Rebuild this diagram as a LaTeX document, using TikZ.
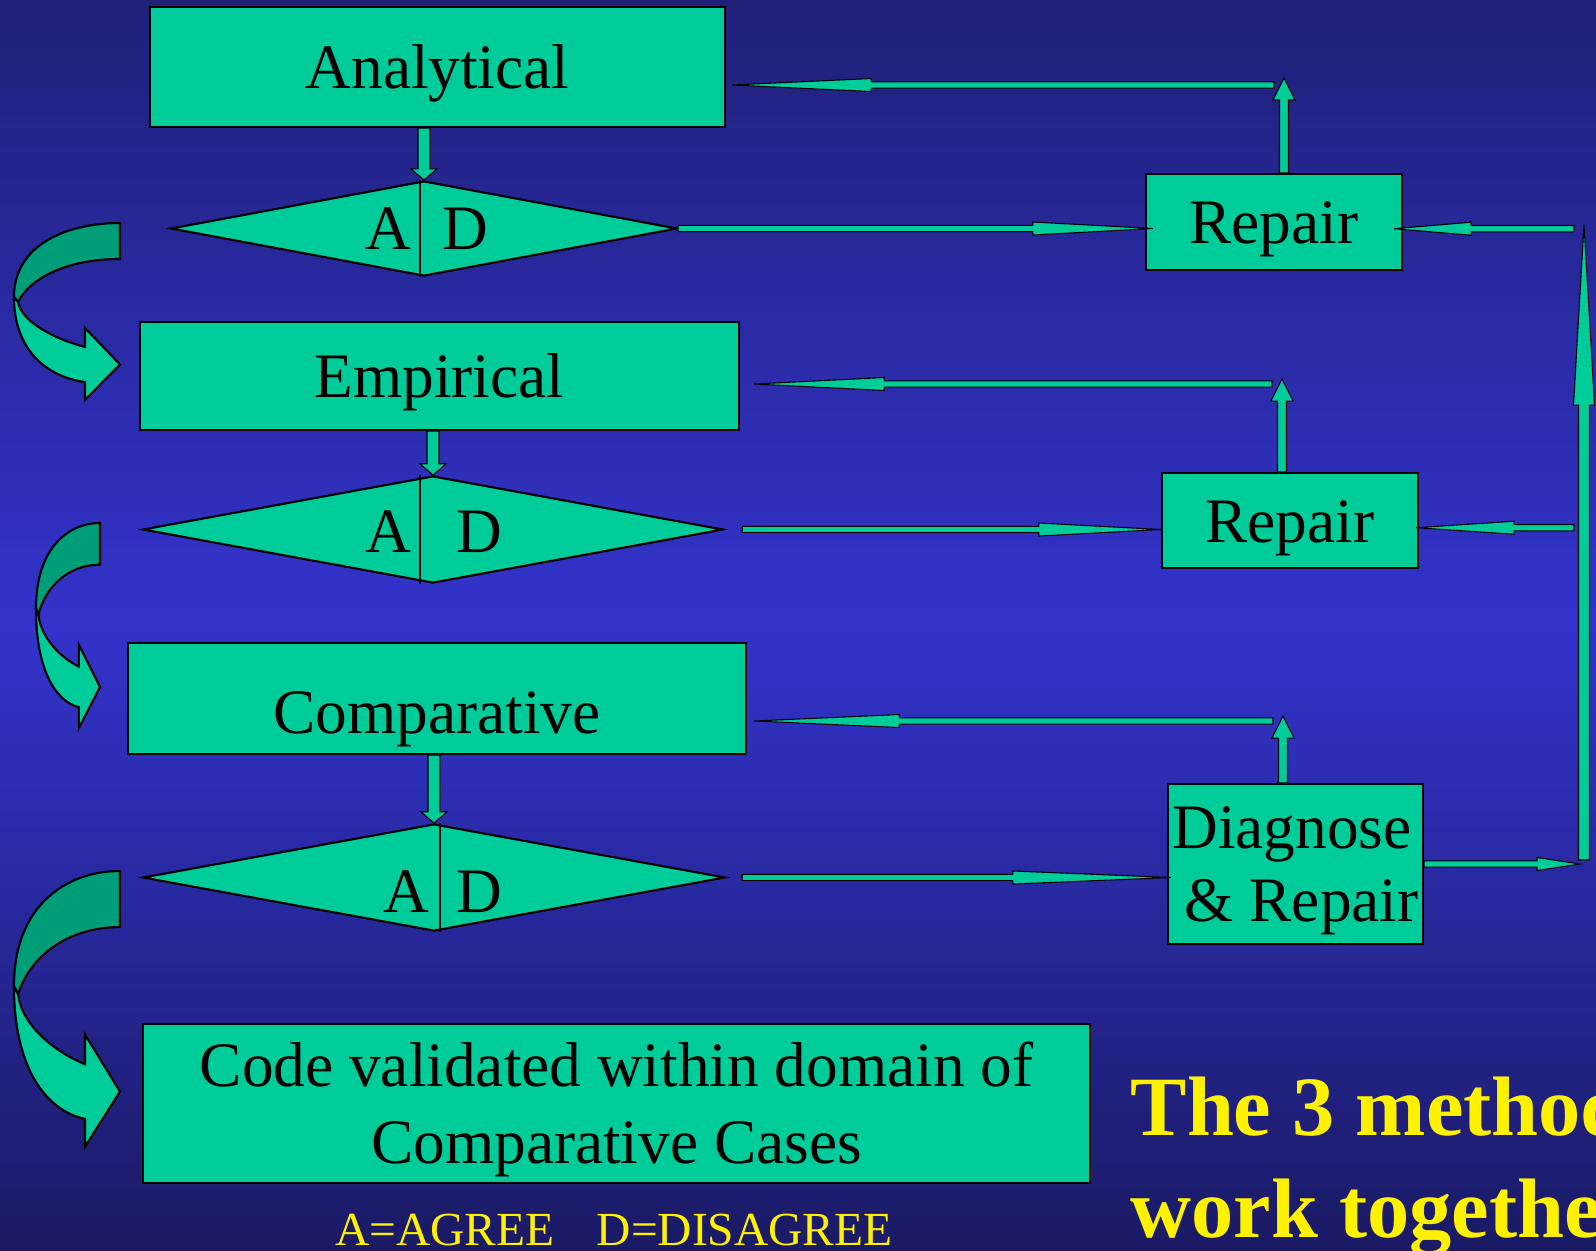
\documentclass[tikz,border=0pt]{standalone}
\usepackage{fontspec}
\setmainfont{Liberation Serif}
\usetikzlibrary{arrows.meta,shapes.geometric,calc}

\definecolor{slideTop}{RGB}{32,32,120}
\definecolor{slideMid}{RGB}{51,51,204}
\definecolor{slideBottom}{RGB}{26,26,100}
\definecolor{boxGreen}{RGB}{0,204,153}
\definecolor{backGreen}{RGB}{0,158,120}

\tikzset{%
  % Specifications for style of nodes:
          base/.style = {rectangle, draw=black, line width=0.6pt, fill=boxGreen,
                         inner sep=0pt, text centered, font=\fontsize{18}{22}\selectfont},
        method/.style = {base, text height=16pt, text depth=3.5pt},
        repair/.style = {method, minimum width=25.6mm, minimum height=9.6mm},
      decision/.style = {diamond, draw=black, line width=0.6pt, fill=boxGreen,
                         inner sep=0pt},
       verdict/.style = {anchor=base, inner sep=0pt, font=\fontsize{18}{22}\selectfont},
  % Specifications for style of connectors:
      pipeskin/.style = {draw=black, fill=boxGreen, line width=0.3pt, line join=miter},
      turnskin/.style = {draw=black, line width=0.6pt},
}

% block arrow: from, to, half shaft, half head, head length
\newcommand{\flowpipe}[5]{%
  \path[pipeskin] let \p1=(#1), \p2=(#2),
      \n1={veclen(\x2-\x1,\y2-\y1)}, \n2={atan2(\y2-\y1,\x2-\x1)} in
    [shift={(\p1)}, rotate=\n2]
    (0pt,-#3) -- ({\n1*1pt-#5},-#3) -- ({\n1*1pt-#5},-#4) -- ({\n1*1pt},0pt)
    -- ({\n1*1pt-#5},#4) -- ({\n1*1pt-#5},#3) -- (0pt,#3) -- cycle;}
\newcommand{\thinpipe}[3]{\flowpipe{#1}{#2}{0.32mm}{0.65mm}{#3}}
\newcommand{\droppipe}[2]{\flowpipe{#1}{#2}{0.6mm}{1.3mm}{1.1mm}}
\newcommand{\riserpipe}[2]{\flowpipe{#1}{#2}{0.45mm}{1.1mm}{2.2mm}}

% curved hand-over arrow: right x, top y, width, height
\newcommand{\turnarrow}[4]{%
  \begin{scope}[shift={(#1,#2)}, xscale=#3, yscale=#4]
    \filldraw[turnskin, fill=backGreen] (0,0) .. controls (-0.5,0) and (-1,0.15) .. (-1,0.51)
      -- (-0.962,0.545) .. controls (-0.85,0.38) and (-0.5,0.248) .. (0,0.248) -- cycle;
    \filldraw[turnskin, fill=boxGreen] (-1,0.51) .. controls (-1,0.87) and (-0.7,1.06) .. (-0.33,1.097)
      -- (-0.33,1.22) -- (0,0.976) -- (-0.33,0.724) -- (-0.33,0.855)
      .. controls (-0.62,0.8) and (-0.93,0.68) .. (-0.962,0.545) -- cycle;
  \end{scope}}

\begin{document}
\begin{tikzpicture}[x=0.01cm, y=-0.01cm]

\clip (0,0) rectangle (1596,1250);
\shade[top color=slideTop, bottom color=slideBottom, middle color=slideMid]
  (0,0) rectangle (1596,1250);

\node (Ana)   [method, minimum width=57.5mm, minimum height=12mm]   at (437.5,67)  {Analytical};

\node (AD1)   [decision, minimum width=50.6mm, minimum height=9.5mm] at (424,228.5) {};
\draw[line width=0.4pt] ($(AD1.north)+(-4,0)$) -- ($(AD1.south)+(-4,0)$);
\node (A1)    [verdict] at (388,249) {A};
\node (D1)    [verdict] at (465,249) {D};

\node (Rep1)  [repair] at (1274,222) {Repair};

\node (Emp)   [method, minimum width=59.9mm, minimum height=10.8mm] at (439.5,376) {Empirical};

\node (AD2)   [decision, minimum width=58mm, minimum height=10.7mm] at (433,529.5) {};
\draw[line width=0.4pt] ($(AD2.north)+(-13,0)$) -- ($(AD2.south)+(-13,0)$);
\node (A2)    [verdict] at (388,552) {A};
\node (D2)    [verdict] at (479,552) {D};

\node (Rep2)  [repair, minimum height=9.5mm] at (1290,520.5) {Repair};

\node (Comp)  [method, minimum width=61.8mm, minimum height=11.1mm,
               text height=21pt, text depth=1pt] at (437,698.5) {Comparative};

\node (AD3)   [decision, minimum width=58.2mm, minimum height=10.7mm] at (434,877.5) {};
\draw[line width=0.4pt] ($(AD3.north)+(6,0)$) -- ($(AD3.south)+(6,0)$);
\node (A3)    [verdict] at (406,912) {A};
\node (D3)    [verdict] at (479,912) {D};

\node (Diag)  [base, minimum width=25.5mm, minimum height=16mm] at (1295.5,864) {};
\node (DiagText) [align=left, inner sep=0pt, font=\fontsize{18}{20.8}\selectfont]
              at ($(Diag)+(0,7)$) {Diagnose\\\hspace*{3.5pt}\& Repair};

\node (Valid) [base, minimum width=94.7mm, minimum height=15.9mm] at (616.5,1103.5) {};
\node (ValidText) [align=center, inner sep=0pt, font=\fontsize{18}{22}\selectfont]
              at ($(Valid)+(0,6)$) {Code validated within domain of\\Comparative Cases};

\node (legend) [anchor=base, inner sep=0pt, text=yellow, font=\fontsize{13.5}{16}\selectfont]
               at (614,1245) {A=AGREE\hspace{12pt}D=DISAGREE};

\node (motto)  [anchor=north west, inner sep=0pt, align=left, text=yellow,
                font=\fontsize{24}{29}\selectfont\bfseries] at (1130,1076)
               {The 3 methods\\work together};

% hand-over from one method to the next
\turnarrow{120}{223}{106}{145}
\turnarrow{100}{523}{64}{168}
\turnarrow{120}{871}{106}{226}

% methods down to their A|D test
\droppipe{Ana.south -| AD1.north}{AD1.north}
\droppipe{Emp.south -| AD2.north}{AD2.north}
\droppipe{Comp.south -| AD3.north}{AD3.north}

% disagreement goes to repair
\thinpipe{AD1.east}{$(AD1.east -| Rep1.west)+(8,0)$}{12mm}
\thinpipe{$(AD2.east)+(18,0)$}{AD2.east -| Rep2.west}{12.2mm}
\thinpipe{$(AD3.east)+(16,0)$}{$(AD3.east -| Diag.west)+(4,0)$}{15.8mm}

% repair back to the method
\coordinate (top1)  at (1284,78);
\coordinate (turn1) at (1274,85);
\coordinate (top2)  at (1282,379);
\coordinate (turn2) at (1272,384);
\coordinate (top3)  at (1283,716);
\coordinate (turn3) at (1273,721);
\riserpipe{Rep1.north -| top1}{top1}
\riserpipe{Rep2.north -| top2}{top2}
\riserpipe{Diag.north -| top3}{top3}
\thinpipe{turn1}{$(turn1 -| Ana.east)+(6,0)$}{13.9mm}
\thinpipe{turn2}{$(turn2 -| Emp.east)+(14,0)$}{13mm}
\thinpipe{turn3}{$(turn3 -| Comp.east)+(7,0)$}{14.5mm}

% long return line on the right
\coordinate (riseBot) at (1584,860);
\coordinate (riseTop) at (1584,225);
\coordinate (in1)     at (1574,228.7);
\coordinate (in2)     at (1574,527.7);
\flowpipe{riseBot}{riseTop}{0.55mm}{1.05mm}{18mm}
\thinpipe{in1}{$(in1 -| Rep1.east)+(-9,0)$}{7.7mm}
\thinpipe{in2}{$(in2 -| Rep2.east)+(-3,0)$}{9.8mm}
\thinpipe{Diag.east}{$(Diag.east -| riseBot)+(-4,0)$}{4.3mm}

\end{tikzpicture}
\end{document}
